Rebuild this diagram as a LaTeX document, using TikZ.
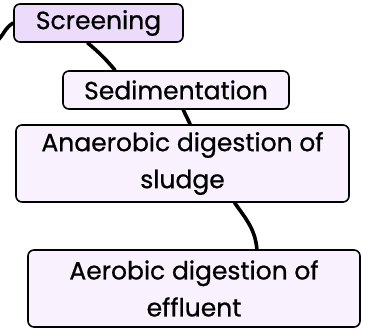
\documentclass[tikz,border=0pt]{standalone}
\usepackage{fontspec}
\setmainfont{Poppins}

\begin{document}
\begin{tikzpicture}[x=1pt,y=1pt,
  box/.style={draw,line width=1.6pt,rounded corners=6pt,align=center,
    font=\fontsize{25}{37}\selectfont\addfontfeatures{FakeBold=0.7},inner sep=0pt},
  link/.style={line width=3.6pt,line cap=round}]
  \definecolor{lilac}{RGB}{236,219,250}
  \definecolor{pale}{RGB}{249,241,253}
  \useasboundingbox (0,0) rectangle (375,-332);

  \node[box,fill=lilac,minimum width=169,minimum height=38] (scr) at (98.5,-23) {Screening};
  \node[box,fill=pale,minimum width=226,minimum height=38] (sed) at (176,-90) {Sedimentation};
  \node[box,fill=pale,minimum width=333,minimum height=77] (ana) at (182.5,-163.5) {Anaerobic digestion of\\sludge};
  \node[box,fill=pale,minimum width=332,minimum height=77] (aer) at (194,-288.5) {Aerobic digestion of\\effluent};

  \coordinate (in) at (-4,-42);
  \draw[link] (in) to[out=40,in=210] (scr.west);
  \draw[link] (scr.241) to[out=-40,in=130] (sed.162);
  \draw[link] (sed.290) -- (ana.79);
  \draw[link] (ana.323) to[out=-55,in=95] (aer.32);

\end{tikzpicture}
\end{document}
